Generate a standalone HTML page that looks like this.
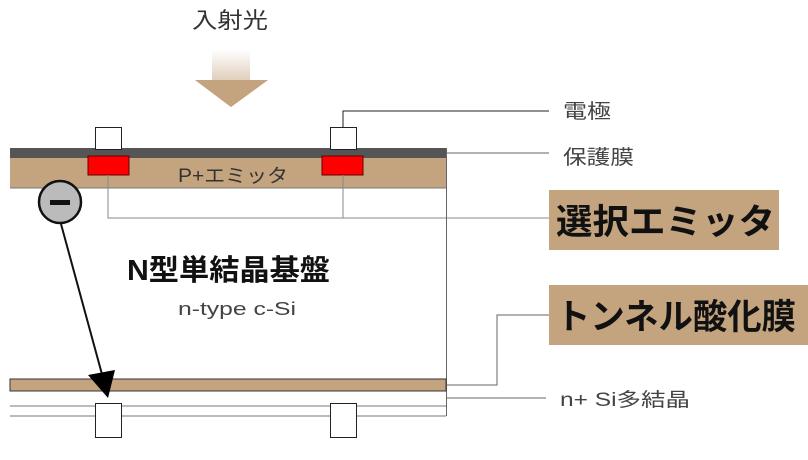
<!DOCTYPE html>
<html><head><meta charset="utf-8"><style>
html,body{margin:0;padding:0;background:#fff;}
svg{display:block;}
text{font-family:"Liberation Sans","Noto Sans CJK JP",sans-serif;}
</style></head><body>
<svg width="808" height="460" viewBox="0 0 808 460" xmlns="http://www.w3.org/2000/svg">
<defs>
<linearGradient id="g" x1="0" y1="0" x2="0" y2="1">
<stop offset="0" stop-color="#fff"/><stop offset="1" stop-color="#c4a47f"/>
</linearGradient>
</defs>
<text x="192" y="28" font-size="22" textLength="76" lengthAdjust="spacingAndGlyphs" fill="#333">入射光</text>
<polygon points="212,50 250,50 250,80 268,80 231,107 195,80 212,80" fill="url(#g)"/>
<polygon points="195,80 268,80 231,107" fill="#c4a47f"/>
<rect x="10" y="148" width="436" height="10" fill="#555"/>
<rect x="10" y="158" width="436" height="30" fill="#c4a47f"/>
<line x1="10" y1="188" x2="446" y2="188" stroke="#777" stroke-width="1"/>
<text x="178" y="182" font-size="19" textLength="110" lengthAdjust="spacingAndGlyphs" fill="#333">P+エミッタ</text>
<rect x="95.5" y="127.5" width="26" height="22" fill="#fff" stroke="#222"/>
<rect x="330.5" y="127.5" width="26" height="22" fill="#fff" stroke="#222"/>
<rect x="88" y="156" width="41" height="19" fill="#f00" stroke="#600"/>
<rect x="322" y="156" width="41" height="19" fill="#f00" stroke="#600"/>
<polyline points="108,175 108,218 446,218" fill="none" stroke="#888"/>
<line x1="343" y1="175" x2="343" y2="218" stroke="#888"/>
<line x1="446" y1="218" x2="549" y2="218" stroke="#888"/>
<line x1="446.5" y1="148" x2="446.5" y2="416" stroke="#666"/>
<polyline points="343,127 343,111 549,111" fill="none" stroke="#222"/>
<line x1="446" y1="153" x2="549" y2="153" stroke="#666"/>
<text x="563" y="118" font-size="20" textLength="48" lengthAdjust="spacingAndGlyphs" fill="#444">電極</text>
<text x="563" y="164" font-size="20" textLength="71" lengthAdjust="spacingAndGlyphs" fill="#444">保護膜</text>
<rect x="549" y="190" width="230" height="60" fill="#c4a47f"/>
<text x="556" y="234" font-size="35" font-weight="bold" textLength="219" lengthAdjust="spacingAndGlyphs" fill="#111">選択エミッタ</text>
<rect x="549" y="285" width="259" height="60" fill="#c4a47f"/>
<text x="556" y="329" font-size="35" font-weight="bold" textLength="240" lengthAdjust="spacingAndGlyphs" fill="#111">トンネル酸化膜</text>
<polyline points="446,385 497,385 497,315 549,315" fill="none" stroke="#666"/>
<line x1="446" y1="398" x2="546" y2="398" stroke="#666"/>
<text x="560" y="406" font-size="19" textLength="130" lengthAdjust="spacingAndGlyphs" fill="#444">n+ Si多結晶</text>
<text x="127" y="280" font-size="29" font-weight="bold" textLength="203" lengthAdjust="spacingAndGlyphs" fill="#111">N型単結晶基盤</text>
<text x="178" y="315" font-size="18" textLength="118" lengthAdjust="spacingAndGlyphs" fill="#444">n-type c-Si</text>
<rect x="10" y="379" width="436" height="12" fill="#c4a47f" stroke="#333" stroke-width="1"/>
<line x1="10" y1="406" x2="446" y2="406" stroke="#777"/>
<line x1="10" y1="416" x2="446" y2="416" stroke="#777"/>
<rect x="95.5" y="403.5" width="26" height="34" fill="#fff" stroke="#222"/>
<rect x="330.5" y="403.5" width="26" height="34" fill="#fff" stroke="#222"/>
<line x1="61" y1="224" x2="103" y2="378" stroke="#111" stroke-width="2"/>
<polygon points="88,375 115,370 108,398" fill="#000"/>
<circle cx="60" cy="202" r="21" fill="#bbb" stroke="#111" stroke-width="2.5"/>
<rect x="50" y="200" width="20" height="5" fill="#111"/>
</svg>
</body></html>
